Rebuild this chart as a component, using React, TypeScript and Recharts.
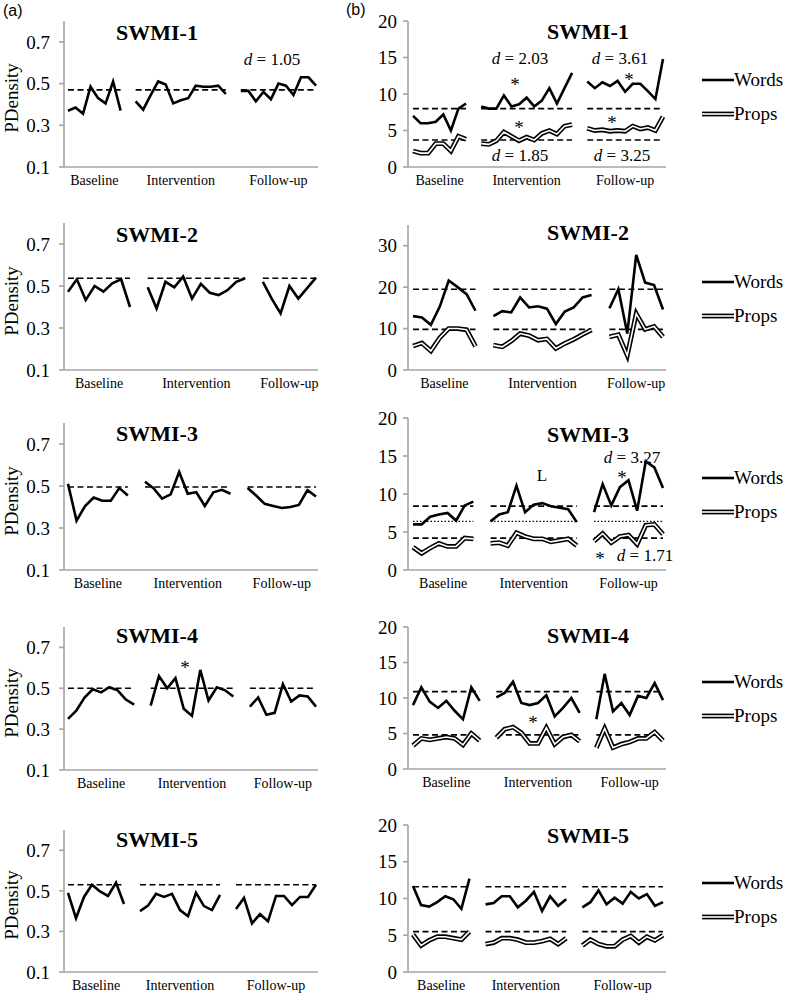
import React from 'react';
import { LineChart, Line, XAxis, YAxis } from 'recharts';

const phaseNames = ['Baseline', 'Intervention', 'Follow-up'];
const seriesLabels = ['Words', 'Props'];
const panelTitles = ['SWMI-1', 'SWMI-2', 'SWMI-3', 'SWMI-4', 'SWMI-5'];

// (a) PDensity per session: [baseline, intervention, follow-up]
const pd1 = [
  [0.37, 0.385, 0.355, 0.485, 0.43, 0.405, 0.51, 0.37],
  [0.415, 0.375, 0.445, 0.51, 0.495, 0.405, 0.42, 0.43, 0.49, 0.485, 0.485, 0.49, 0.45],
  [0.465, 0.465, 0.415, 0.46, 0.425, 0.5, 0.49, 0.445, 0.53, 0.53, 0.49],
];
const pd2 = [
  [0.473, 0.532, 0.433, 0.5, 0.473, 0.513, 0.532, 0.4],
  [0.494, 0.393, 0.52, 0.494, 0.545, 0.44, 0.51, 0.468, 0.457, 0.48, 0.52, 0.537],
  [0.52, 0.44, 0.37, 0.5, 0.44, 0.49, 0.54],
];
const pd3 = [
  [0.51, 0.335, 0.405, 0.445, 0.43, 0.43, 0.49, 0.455],
  [0.52, 0.49, 0.44, 0.46, 0.567, 0.463, 0.47, 0.405, 0.47, 0.482, 0.463],
  [0.49, 0.455, 0.415, 0.405, 0.395, 0.4, 0.41, 0.48, 0.45],
];
const pd4 = [
  [0.35, 0.39, 0.455, 0.495, 0.48, 0.505, 0.49, 0.445, 0.42],
  [0.415, 0.56, 0.5, 0.55, 0.4, 0.365, 0.59, 0.44, 0.505, 0.49, 0.46],
  [0.41, 0.455, 0.37, 0.38, 0.52, 0.435, 0.465, 0.46, 0.41],
];
const pd5 = [
  [0.49, 0.365, 0.47, 0.53, 0.497, 0.475, 0.54, 0.435],
  [0.4, 0.427, 0.485, 0.47, 0.485, 0.405, 0.375, 0.49, 0.425, 0.405, 0.48],
  [0.41, 0.465, 0.34, 0.385, 0.35, 0.475, 0.475, 0.43, 0.47, 0.47, 0.53],
];
const pdPanels = [pd1, pd2, pd3, pd4, pd5];
const pdMeans = [0.47, 0.537, 0.495, 0.5, 0.53];
const pdTicks = [0.1, 0.3, 0.5, 0.7];

// (b) words and propositions per session
const words1 = [
  [7.0, 6.0, 6.0, 6.2, 7.2, 5.0, 8.0, 8.7],
  [8.3, 8.0, 8.0, 9.8, 8.3, 8.6, 9.5, 8.3, 9.1, 10.8, 8.7, 10.8, 12.9],
  [11.7, 10.8, 11.6, 11.1, 11.8, 10.3, 11.4, 11.4, 10.4, 9.3, 14.8],
];
const props1 = [
  [2.2, 1.9, 1.9, 3.2, 3.2, 2.2, 4.2, 3.8],
  [3.2, 3.1, 3.6, 4.8, 4.2, 3.6, 4.1, 3.7, 4.6, 5.0, 4.5, 5.6, 5.8],
  [5.3, 5.0, 5.1, 4.9, 5.0, 4.9, 5.6, 5.2, 5.4, 5.0, 6.9],
];
const words2 = [
  [13.0, 12.7, 10.9, 15.3, 21.6, 20.0, 18.3, 14.3],
  [13.0, 14.2, 13.9, 17.5, 15.1, 15.4, 14.8, 11.1, 14.1, 15.1, 17.5, 18.1],
  [14.9, 19.5, 8.8, 27.8, 21.1, 20.5, 14.6],
];
const props2 = [
  [5.8, 6.5, 4.6, 7.8, 10.0, 10.0, 9.7, 5.7],
  [6.0, 5.6, 7.0, 8.8, 8.3, 7.2, 7.5, 5.2, 6.4, 7.4, 8.6, 9.7],
  [8.0, 8.5, 3.5, 13.6, 9.8, 10.5, 8.0],
];
const words3 = [
  [6.0, 6.0, 7.0, 7.3, 7.5, 6.5, 8.5, 9.0],
  [6.4, 7.3, 7.6, 11.1, 7.6, 8.6, 8.8, 8.4, 8.2, 8.0, 6.3],
  [7.6, 11.3, 8.5, 10.9, 11.8, 7.8, 14.3, 13.5, 10.8],
];
const props3 = [
  [3.0, 2.2, 2.9, 3.5, 3.1, 3.1, 4.2, 4.1],
  [3.5, 3.6, 3.2, 4.9, 4.4, 4.1, 4.1, 3.7, 3.9, 4.1, 3.2],
  [3.8, 4.8, 3.6, 4.4, 4.6, 3.4, 5.9, 6.0, 4.7],
];
const words4 = [
  [9.0, 11.5, 9.5, 8.6, 9.6, 8.2, 7.0, 11.5, 9.6],
  [10.1, 10.7, 12.3, 9.3, 9.0, 9.3, 10.4, 7.4, 8.6, 10.0, 7.9],
  [7.0, 13.4, 8.1, 9.3, 7.6, 10.3, 10.0, 12.1, 9.7],
];
const props4 = [
  [3.3, 4.3, 4.1, 4.3, 4.5, 4.3, 3.4, 5.0, 4.0],
  [4.4, 5.6, 5.9, 5.1, 3.6, 3.6, 5.8, 3.5, 4.5, 4.8, 3.9],
  [3.0, 5.7, 3.0, 3.5, 3.8, 4.3, 4.3, 5.2, 4.0],
];
const words5 = [
  [11.7, 9.1, 8.9, 9.5, 10.3, 9.9, 8.6, 12.7],
  [9.2, 9.4, 10.3, 10.3, 8.8, 9.7, 10.9, 8.3, 10.3, 9.0, 9.9],
  [8.8, 9.5, 11.1, 9.2, 10.1, 9.3, 10.9, 10.0, 10.6, 9.0, 9.5],
];
const props5 = [
  [5.1, 3.6, 4.3, 4.8, 4.8, 4.6, 4.4, 5.5],
  [3.8, 4.0, 4.6, 4.6, 4.4, 4.0, 4.0, 4.2, 4.5, 3.8, 4.6],
  [3.6, 4.4, 3.8, 3.5, 3.5, 4.4, 4.9, 4.0, 4.8, 4.3, 5.0],
];
const wordsPanels = [words1, words2, words3, words4, words5];
const propsPanels = [props1, props2, props3, props4, props5];
const wordsMeans = [8.0, 19.5, 8.4, 10.9, 11.6];
const propsMeans = [3.7, 9.8, 4.2, 4.8, 5.5];
const wordsDotted = [null, null, 6.4, null, null];
const countTicks = [
  [0, 5, 10, 15, 20],
  [0, 10, 20, 30],
  [0, 5, 10, 15, 20],
  [0, 5, 10, 15, 20],
  [0, 5, 10, 15, 20],
];
const countMax = [20, 35, 20, 20, 20];

const SERIF = '"Liberation Serif", "Times New Roman", serif';
const AXIS = '#a4a4a4';

// page layout (px)
const leftTops = [21, 223, 423, 627, 830];
const leftBottoms = [167, 370, 570, 770, 972];
const rightTops = [21, 225, 418, 627, 825];
const rightBottoms = [167, 370, 570, 769, 972];
const leftTitleY = [33, 235, 434, 636, 840];
const rightTitleY = [32, 233, 435, 636, 836];
const keyY = [80, 282, 478, 682, 883];

const effects = [
  { x: 272, y: 59, d: '1.05' },
  { x: 520, y: 58, d: '2.03' },
  { x: 620, y: 58, d: '3.61' },
  { x: 520, y: 155, d: '1.85' },
  { x: 622, y: 155, d: '3.25' },
  { x: 632, y: 457, d: '3.27' },
  { x: 645, y: 555, d: '1.71' },
];
const stars = [
  { x: 515, y: 81 }, { x: 629, y: 76 }, { x: 519, y: 124 }, { x: 612, y: 119 },
  { x: 622, y: 474 }, { x: 600, y: 555 }, { x: 185, y: 664 }, { x: 533, y: 719 },
];

type LineSpec = { key: string; color: string; w: number; dash?: string };

function buildRows(series: Record<string, number[][]>, levels: Record<string, number | null>) {
  const keys = Object.keys(series);
  const phases = series[keys[0]];
  const rows: Record<string, number | null>[] = [];
  const centers: number[] = [];
  let slot = 0;
  phases.forEach((phase, p) => {
    if (p > 0) {
      const gap: Record<string, number | null> = { x: slot };
      keys.forEach((k) => (gap[k] = null));
      Object.keys(levels).forEach((k) => (gap[k] = null));
      rows.push(gap);
      slot++;
    }
    centers.push(slot + (phase.length - 1) / 2);
    phase.forEach((_, i) => {
      const row: Record<string, number | null> = { x: slot };
      keys.forEach((k) => (row[k] = series[k][p][i]));
      Object.keys(levels).forEach((k) => (row[k] = levels[k]));
      rows.push(row);
      slot++;
    });
  });
  return { rows, centers, last: slot - 1 };
}

interface ChartProps {
  left: number;
  width: number;
  axisW: number;
  plotEnd: number;
  top: number;
  bottom: number;
  padL: number;
  padR: number;
  series: Record<string, number[][]>;
  levels: Record<string, number | null>;
  yDomain: [number, number];
  yTicks: number[];
  yFmt: (v: number) => string;
  tickGap: number;
  lines: LineSpec[];
}

const SessionChart: React.FC<ChartProps> = (p) => {
  const { rows, centers, last } = buildRows(p.series, p.levels);
  const mt = 10;
  const xh = 30;
  const plotW = p.plotEnd - (p.left + p.axisW);
  const k = (plotW - p.padL - p.padR) / last;
  const domain: [number, number] = [-p.padL / k, last + p.padR / k];
  return (
    <div style={{ position: 'absolute', left: p.left, top: p.top - mt }}>
      <LineChart
        width={p.width}
        height={p.bottom - p.top + mt + xh}
        data={rows}
        margin={{ top: mt, right: p.width - (p.plotEnd - p.left), bottom: 0, left: 0 }}
      >
        <XAxis
          dataKey="x"
          type="number"
          domain={domain}
          ticks={centers}
          interval={0}
          allowDataOverflow
          tickFormatter={(_v, i) => phaseNames[i]}
          height={xh}
          tickLine={false}
          stroke={AXIS}
          strokeWidth={1.6}
          tick={{ fill: '#000', fontSize: 14, fontFamily: SERIF }}
        />
        <YAxis
          type="number"
          domain={p.yDomain}
          ticks={p.yTicks}
          interval={0}
          allowDataOverflow
          width={p.axisW}
          tickSize={5}
          tickMargin={p.tickGap}
          tickFormatter={p.yFmt}
          stroke={AXIS}
          strokeWidth={1.6}
          tick={{ fill: '#000', fontSize: 19, fontFamily: SERIF }}
        />
        {p.lines.map((l, i) => (
          <Line
            key={i}
            dataKey={l.key}
            type="linear"
            stroke={l.color}
            strokeWidth={l.w}
            strokeDasharray={l.dash}
            dot={false}
            activeDot={false}
            connectNulls={false}
            isAnimationActive={false}
          />
        ))}
      </LineChart>
    </div>
  );
};

const SeriesKey: React.FC<{ y: number }> = ({ y }) => (
  <div style={{ position: 'absolute', left: 702, top: y - 17, fontFamily: SERIF, fontSize: 19, color: '#000' }}>
    {seriesLabels.map((label, i) => (
      <div key={label} style={{ display: 'flex', alignItems: 'center', height: 34 }}>
        <svg width={32} height={10} style={{ display: 'block' }}>
          {i === 0 ? (
            <line x1={0} x2={32} y1={5} y2={5} stroke="#000" strokeWidth={2.6} />
          ) : (
            <>
              <line x1={0} x2={32} y1={5} y2={5} stroke="#000" strokeWidth={4.8} />
              <line x1={0} x2={32} y1={5} y2={5} stroke="#fff" strokeWidth={1.6} />
            </>
          )}
        </svg>
        <span>{label}</span>
      </div>
    ))}
  </div>
);

const Text: React.FC<{ x: number; y: number; size: number; bold?: boolean; children: React.ReactNode }> = ({
  x, y, size, bold, children,
}) => (
  <div
    style={{
      position: 'absolute', left: x, top: y, transform: 'translate(-50%, -50%)', whiteSpace: 'nowrap',
      fontFamily: SERIF, fontSize: size, fontWeight: bold ? 700 : 400, lineHeight: 1, color: '#000',
    }}
  >
    {children}
  </div>
);

const App: React.FC = () => {
  const pdLines: LineSpec[] = [
    { key: 'mean', color: '#000', w: 1.6, dash: '6 3.5' },
    { key: 'pd', color: '#000', w: 2.6 },
  ];
  return (
    <div style={{ position: 'absolute', left: 0, top: 0, width: 796, height: 996, background: '#fff', overflow: 'hidden' }}>
      {pdPanels.map((pd, r) => (
        <SessionChart
          key={`a${r}`}
          left={0}
          width={330}
          axisW={64}
          plotEnd={318}
          top={leftTops[r]}
          bottom={leftBottoms[r]}
          padL={4}
          padR={2}
          series={{ pd }}
          levels={{ mean: pdMeans[r] }}
          yDomain={[0.1, 0.8]}
          yTicks={pdTicks}
          yFmt={(v) => v.toFixed(1)}
          tickGap={9}
          lines={pdLines}
        />
      ))}
      {wordsPanels.map((words, r) => {
        const lines: LineSpec[] = [
          { key: 'wMean', color: '#000', w: 1.6, dash: '6 3.5' },
          { key: 'pMean', color: '#000', w: 1.6, dash: '6 3.5' },
        ];
        if (wordsDotted[r] !== null) lines.push({ key: 'wLow', color: '#000', w: 1.4, dash: '1.5 2' });
        lines.push(
          { key: 'props', color: '#000', w: 4.8 },
          { key: 'props', color: '#fff', w: 1.6 },
          { key: 'words', color: '#000', w: 2.6 },
        );
        return (
          <SessionChart
            key={`b${r}`}
            left={340}
            width={456}
            axisW={68}
            plotEnd={666}
            top={rightTops[r]}
            bottom={rightBottoms[r]}
            padL={5}
            padR={3}
            series={{ words, props: propsPanels[r] }}
            levels={{ wMean: wordsMeans[r], pMean: propsMeans[r], wLow: wordsDotted[r] }}
            yDomain={[0, countMax[r]]}
            yTicks={countTicks[r]}
            yFmt={(v) => String(v)}
            tickGap={6}
            lines={lines}
          />
        );
      })}

      {panelTitles.map((t, r) => (
        <React.Fragment key={t}>
          <Text x={157} y={leftTitleY[r]} size={22} bold>{t}</Text>
          <Text x={588} y={rightTitleY[r]} size={22} bold>{t}</Text>
          <div
            style={{
              position: 'absolute', left: 11, top: (leftTops[r] + leftBottoms[r]) / 2 + 4,
              transform: 'translate(-50%, -50%) rotate(-90deg)', fontFamily: SERIF, fontSize: 19,
              lineHeight: 1, whiteSpace: 'nowrap',
            }}
          >
            PDensity
          </div>
          <SeriesKey y={keyY[r]} />
        </React.Fragment>
      ))}

      {effects.map((e, i) => (
        <Text key={`d${i}`} x={e.x} y={e.y} size={17}>
          <i>d</i> = {e.d}
        </Text>
      ))}
      {stars.map((s, i) => (
        <Text key={`s${i}`} x={s.x} y={s.y + 3} size={19}>*</Text>
      ))}
      <Text x={542} y={475} size={17}>L</Text>

      <div style={{ position: 'absolute', left: 3, top: 2, fontFamily: '"Liberation Sans", Arial, sans-serif', fontSize: 16 }}>(a)</div>
      <div style={{ position: 'absolute', left: 346, top: 1, fontFamily: '"Liberation Sans", Arial, sans-serif', fontSize: 16 }}>(b)</div>
    </div>
  );
};

export default App;
